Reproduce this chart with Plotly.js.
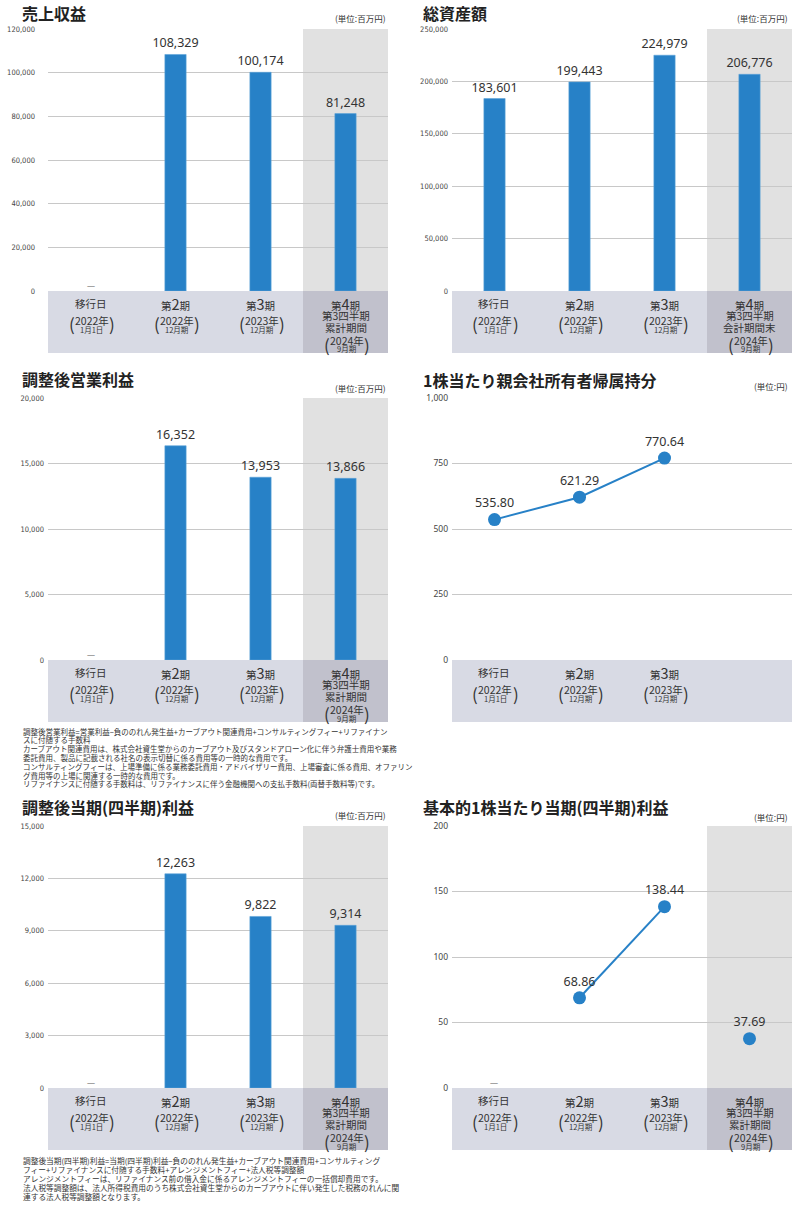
<!DOCTYPE html>
<html><head><meta charset="utf-8">
<script src="https://cdn.plot.ly/plotly-3.0.1.min.js"></script>
<style>html,body{margin:0;padding:0;background:#fff;}#chart{width:800px;height:1209px;}</style>
</head><body><div id="chart"></div>
<script>
// ---------- data ----------
const categoryNames = ["移行日", "第2期", "第3期", "第4期"];
const categoryYears = ["2022年", "2022年", "2023年", "2024年"];
const categoryDates = ["1月1日", "12月期", "12月期", "9月期"];
const q4LinesCumulative = ["第3四半期", "累計期間"];
const q4LinesBalance = ["第3四半期", "会計期間末"];

const revenue = [null, 108329, 100174, 81248];          // 売上収益 (百万円)
const totalAssets = [183601, 199443, 224979, 206776];    // 総資産額 (百万円)
const adjOperatingIncome = [null, 16352, 13953, 13866];  // 調整後営業利益 (百万円)
const bookValuePerShare = [535.80, 621.29, 770.64, null];// 1株当たり親会社所有者帰属持分 (円)
const adjNetIncome = [null, 12263, 9822, 9314];          // 調整後当期(四半期)利益 (百万円)
const basicEps = [null, 68.86, 138.44, 37.69];           // 基本的1株当たり当期(四半期)利益 (円)

const revenueTicks = [0, 20000, 40000, 60000, 80000, 100000, 120000];
const assetsTicks = [0, 50000, 100000, 150000, 200000, 250000];
const opIncomeTicks = [0, 5000, 10000, 15000, 20000];
const bpsTicks = [0, 250, 500, 750, 1000];
const netIncomeTicks = [0, 3000, 6000, 9000, 12000, 15000];
const epsTicks = [0, 50, 100, 150, 200];

const footnoteOpIncome = [
  "調整後営業利益=営業利益−負ののれん発生益+カーブアウト関連費用+コンサルティングフィー+リファイナン",
  "スに付随する手数料",
  "カーブアウト関連費用は、株式会社資生堂からのカーブアウト及びスタンドアローン化に伴う弁護士費用や業務",
  "委託費用、製品に記載される社名の表示切替に係る費用等の一時的な費用です。",
  "コンサルティングフィーは、上場準備に係る業務委託費用・アドバイザリー費用、上場審査に係る費用、オファリン",
  "グ費用等の上場に関連する一時的な費用です。",
  "リファイナンスに付随する手数料は、リファイナンスに伴う金融機関への支払手数料(両替手数料等)です。"
];
const footnoteNetIncome = [
  "調整後当期(四半期)利益=当期(四半期)利益−負ののれん発生益+カーブアウト関連費用+コンサルティング",
  "フィー+リファイナンスに付随する手数料+アレンジメントフィー+法人税等調整額",
  "アレンジメントフィーは、リファイナンス前の借入金に係るアレンジメントフィーの一括償却費用です。",
  "法人税等調整額は、法人所得税費用のうち株式会社資生堂からのカーブアウトに伴い発生した税務のれんに関",
  "連する法人税等調整額となります。"
];

// ---------- style / geometry ----------
const W = 800, H = 1209;
const JP = "'Noto Sans CJK JP', 'Noto Sans', sans-serif";
const NUM = "'Noto Sans', 'Noto Sans CJK JP', sans-serif";
const NARROW = "'Liberation Sans Narrow', 'DejaVu Sans Condensed', sans-serif";
const BLUE = '#2781c7';
const TXT = '#333333';

const panels = [
  {title: '売上収益', unit: '(単位:百万円)', kind: 'bar', values: revenue, ticks: revenueTicks,
   x0: 48, x1: 388, top: 29, bot: 291, band: 353, titleY: 13, unitY: 18, unitX: 388, shade: true, q4: q4LinesCumulative, narrow: true, standoff: 12, fmt: 'int'},
  {title: '総資産額', unit: '(単位:百万円)', kind: 'bar', values: totalAssets, ticks: assetsTicks,
   x0: 452, x1: 792, top: 29, bot: 291, band: 353, titleY: 13, unitY: 18, unitX: 790, shade: true, q4: q4LinesBalance, narrow: true, standoff: 3, fmt: 'int'},
  {title: '調整後営業利益', unit: '(単位:百万円)', kind: 'bar', values: adjOperatingIncome, ticks: opIncomeTicks,
   x0: 48, x1: 388, top: 398, bot: 660, band: 722, titleY: 379, unitY: 388, unitX: 388, shade: true, q4: q4LinesCumulative, narrow: true, standoff: 3, fmt: 'int',
   foot: footnoteOpIncome, footY: 731, footStep: 8.8, footSize: 7.5},
  {title: '1株当たり親会社所有者帰属持分', unit: '(単位:円)', kind: 'line', values: bookValuePerShare, ticks: bpsTicks,
   x0: 452, x1: 792, top: 398, bot: 660, band: 722, titleY: 380, unitY: 386, unitX: 790, shade: false, q4: null, narrow: false, standoff: 3, fmt: 'dec'},
  {title: '調整後当期(四半期)利益', unit: '(単位:百万円)', kind: 'bar', values: adjNetIncome, ticks: netIncomeTicks,
   x0: 48, x1: 388, top: 826, bot: 1088, band: 1150, titleY: 807, unitY: 815, unitX: 388, shade: true, q4: q4LinesCumulative, narrow: true, standoff: 3, fmt: 'int',
   foot: footnoteNetIncome, footY: 1160, footStep: 9, footSize: 7.7},
  {title: '基本的1株当たり当期(四半期)利益', unit: '(単位:円)', kind: 'splitline', values: basicEps, ticks: epsTicks,
   x0: 452, x1: 792, top: 826, bot: 1088, band: 1150, titleY: 807, unitY: 817, unitX: 790, shade: true, q4: q4LinesCumulative, narrow: false, standoff: 3, fmt: 'dec'}
];

function fmtVal(v, f) {
  if (v === null) return '';
  return f === 'dec' ? v.toFixed(2) : v.toLocaleString('en-US');
}
function py(p) { return 1 - p / H; }

const data = [];
const layout = {
  width: W, height: H, margin: {l: 0, r: 0, t: 0, b: 0},
  paper_bgcolor: '#ffffff', plot_bgcolor: 'rgba(0,0,0,0)', showlegend: false,
  separators: '.,', font: {family: JP, color: TXT},
  shapes: [], annotations: []
};

panels.forEach((p, i) => {
  const n = i + 1;
  const sfx = n === 1 ? '' : String(n);
  const xr = 'x' + sfx, yr = 'y' + sfx;
  layout['xaxis' + sfx] = {
    domain: [p.x0 / W, p.x1 / W], range: [-0.5, 3.5], type: 'category',
    categoryorder: 'array', categoryarray: categoryNames,
    showticklabels: false, showgrid: false, zeroline: false, showline: false, ticks: '',
    fixedrange: true, anchor: yr
  };
  layout['yaxis' + sfx] = {
    domain: [py(p.bot), py(p.top)], range: [0, p.ticks[p.ticks.length - 1]],
    tickmode: 'array', tickvals: p.ticks, tickformat: ',d',
    showgrid: true, gridcolor: '#c8c8c8', gridwidth: 1, zeroline: false, showline: false, ticks: '',
    tickfont: p.narrow ? {family: NARROW, size: 7.5, color: '#444'} : {family: NUM, size: 8.5, color: '#444'},
    ticklabelstandoff: p.standoff, fixedrange: true, anchor: xr
  };

  // shaded 4th column background
  if (p.shade) {
    layout.shapes.push({type: 'rect', xref: xr, yref: yr + ' domain', x0: 2.5, x1: 3.5, y0: 0, y1: 1,
      fillcolor: '#e1e1e1', line: {width: 0}, layer: 'below'});
  }
  // category band
  layout.shapes.push({type: 'rect', xref: xr, yref: 'paper', x0: -0.5, x1: p.shade ? 2.5 : 3.5,
    y0: py(p.band), y1: py(p.bot), fillcolor: '#d8dae4', line: {width: 0}, layer: 'below'});
  if (p.shade) {
    layout.shapes.push({type: 'rect', xref: xr, yref: 'paper', x0: 2.5, x1: 3.5,
      y0: py(p.band), y1: py(p.bot), fillcolor: '#c1c1cc', line: {width: 0}, layer: 'below'});
  }

  // traces
  const texts = p.values.map(v => fmtVal(v, p.fmt));
  const tfont = {family: NUM, size: 12.5, color: TXT};
  if (p.kind === 'bar') {
    data.push({type: 'bar', x: categoryNames, y: p.values, xaxis: xr, yaxis: yr, width: 0.25,
      marker: {color: BLUE, line: {color: '#5da2d8', width: 0.6}}, text: texts, textposition: 'outside',
      constraintext: 'none', cliponaxis: false, textfont: tfont, hoverinfo: 'skip'});
  } else if (p.kind === 'line') {
    data.push({type: 'scatter', mode: 'lines+markers+text', x: categoryNames, y: p.values, xaxis: xr, yaxis: yr,
      line: {color: BLUE, width: 2}, marker: {color: BLUE, size: 13}, text: texts, textposition: 'top center',
      textfont: tfont, cliponaxis: false, hoverinfo: 'skip'});
  } else {
    data.push({type: 'scatter', mode: 'lines+markers+text', x: categoryNames.slice(0, 3), y: p.values.slice(0, 3), xaxis: xr, yaxis: yr,
      line: {color: BLUE, width: 2}, marker: {color: BLUE, size: 13}, text: texts.slice(0, 3),
      textposition: 'top center', textfont: tfont, cliponaxis: false, hoverinfo: 'skip'});
    data.push({type: 'scatter', mode: 'markers+text', x: categoryNames.slice(3), y: p.values.slice(3), xaxis: xr, yaxis: yr,
      marker: {color: BLUE, size: 13}, text: texts.slice(3), textposition: 'top center',
      textfont: tfont, cliponaxis: false, hoverinfo: 'skip'});
  }

  // dash for missing values (not for the unreported 4th column of the line chart)
  if (p.kind !== 'line') {
    p.values.forEach((v, c) => {
      if (v === null) {
        layout.annotations.push({xref: xr, yref: yr, x: categoryNames[c], y: 0, yshift: 6, text: '—',
          showarrow: false, font: {family: NUM, size: 8, color: '#8a8a8a'}});
      }
    });
  }

  // title + unit
  layout.annotations.push({xref: 'paper', yref: 'paper', x: (p.x0 < 400 ? 20 : 421) / W, y: py(p.titleY),
    xanchor: 'left', yanchor: 'middle', text: '<b>' + p.title + '</b>', showarrow: false,
    font: {family: JP, size: 16, color: '#222'}});
  layout.annotations.push({xref: 'paper', yref: 'paper', x: p.unitX / W, y: py(p.unitY),
    xanchor: 'right', yanchor: 'middle', text: p.unit, showarrow: false,
    font: {family: JP, size: 8.5, color: TXT}});

  // category labels
  const nCols = p.q4 ? 4 : 3;
  for (let c = 0; c < nCols; c++) {
    const cat = categoryNames[c];
    const main = cat.replace(/(\d)/, '<span style="font-size:14.5px">$1</span>');
    const ann = (yy, text, size, xshift) => layout.annotations.push({xref: xr, yref: 'paper', x: cat,
      y: py(p.bot + yy), xshift: xshift || 0, yanchor: 'middle', text: text, showarrow: false,
      borderpad: 0, font: {family: JP, size: size, color: TXT}});
    ann(12, main, 10.5);
    let yYear, yDate, yParen;
    if (c < 3) { yYear = 29; yDate = 38; yParen = 33; }
    else {
      ann(24, p.q4[0], 10.5);
      ann(36.5, p.q4[1], 10.5);
      yYear = 49; yDate = 58; yParen = 53;
    }
    ann(yYear, categoryYears[c], 10.5, 1);
    ann(yDate, categoryDates[c], 7.5, 1);
    ann(yParen, '(', 17, -19);
    ann(yParen, ')', 17, 21);
  }

  // footnotes
  if (p.foot) {
    p.foot.forEach((line, k) => {
      layout.annotations.push({xref: 'paper', yref: 'paper', x: 22 / W, y: py(p.footY + k * p.footStep),
        xanchor: 'left', yanchor: 'middle', text: line, showarrow: false, borderpad: 0,
        font: {family: JP, size: p.footSize, color: TXT}});
    });
  }
});

Plotly.newPlot('chart', data, layout, {displayModeBar: false, staticPlot: true});
</script>
</body></html>
